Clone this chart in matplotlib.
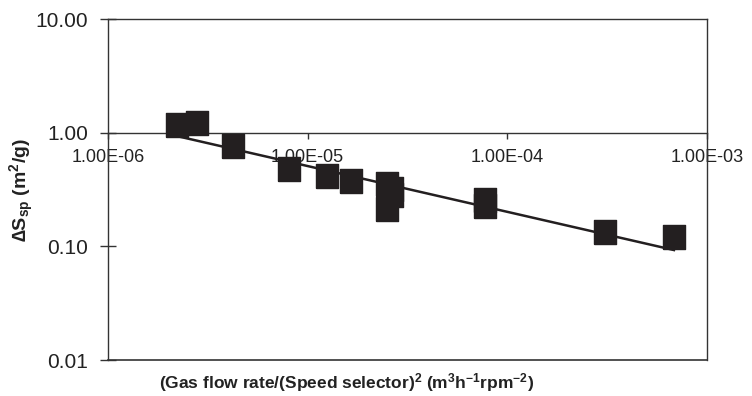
import numpy as np
import matplotlib
matplotlib.use("Agg")
from matplotlib import pyplot as plt
from matplotlib.ticker import FuncFormatter, FixedLocator, NullLocator

plt.rcParams['font.family'] = ['Liberation Sans', 'DejaVu Sans']
plt.rcParams['mathtext.default'] = 'regular'

# gas flow rate / (speed selector)^2  (m3 h-1 rpm-2)
flow = [2.22e-6, 2.79e-6, 4.23e-6, 8.05e-6, 1.25e-5, 1.65e-5,
        2.49e-5, 2.64e-5, 2.64e-5, 2.49e-5, 7.77e-5, 7.77e-5,
        3.08e-4, 6.83e-4]
# specific surface change (m2/g)
dS = [1.17, 1.22, 0.764, 0.480, 0.416, 0.376,
      0.354, 0.320, 0.283, 0.213, 0.256, 0.227,
      0.134, 0.121]

x_ticks = [1e-6, 1e-5, 1e-4, 1e-3]
y_ticks = [0.01, 0.1, 1.0, 10.0]

ink = '#231f20'

fig = plt.figure(figsize=(7.52, 3.96), dpi=100)
ax = fig.add_axes([0.1436, 0.0909, 0.7966, 0.8611])
ax.set_xscale('log')
ax.set_yscale('log')

# power-law trendline, as the spreadsheet would draw it
b, log_a = np.polyfit(np.log10(flow), np.log10(dS), 1)
xs = np.array([min(flow), max(flow)])
ax.plot(xs, 10 ** log_a * xs ** b, color=ink, lw=1.8, zorder=2)

# slightly tall squares like the original
rect = [(-0.875, -1), (0.875, -1), (0.875, 1), (-0.875, 1), (-0.875, -1)]
ax.plot(flow, dS, ls='none', marker=rect, ms=17.3, color=ink, mec=ink, zorder=3)

ax.set_xlim(1e-6, 1e-3)
ax.set_ylim(0.01, 10)

ax.xaxis.set_major_locator(FixedLocator(x_ticks))
ax.yaxis.set_major_locator(FixedLocator(y_ticks))
ax.xaxis.set_minor_locator(NullLocator())
ax.yaxis.set_minor_locator(NullLocator())
ax.xaxis.set_major_formatter(FuncFormatter(lambda v, p: f"{v:.2E}"))
ax.yaxis.set_major_formatter(FuncFormatter(lambda v, p: f"{v:.2f}"))

# x axis crosses at y = 1
ax.spines['bottom'].set_position(('data', 1.0))
for s in ax.spines.values():
    s.set_color('#333333')
    s.set_linewidth(1.0)
ax.plot([0, 1], [0, 0], transform=ax.transAxes, color='#333333', lw=1.2, clip_on=False)

ax.tick_params(axis='x', direction='out', length=4, width=1, pad=8,
               labelsize=13, colors='#333333', labelcolor='#222222')
ax.tick_params(axis='y', direction='inout', length=11, width=1, pad=9,
               labelsize=15, colors='#333333', labelcolor='#222222')

fig.text(347 / 752, 1 - 383 / 396,
         '(Gas flow rate/(Speed selector)$^2$ (m$^3$h$^{−1}$rpm$^{−2}$)',
         ha='center', va='center', fontsize=12.5, fontweight='bold', color='#222222')
fig.text(22 / 752, 1 - 190 / 396, '∆S$_{sp}$ (m$^2$/g)', rotation=90,
         ha='center', va='center', fontsize=14, fontweight='bold', color='#222222')

fig.savefig('out.png', dpi=100)
